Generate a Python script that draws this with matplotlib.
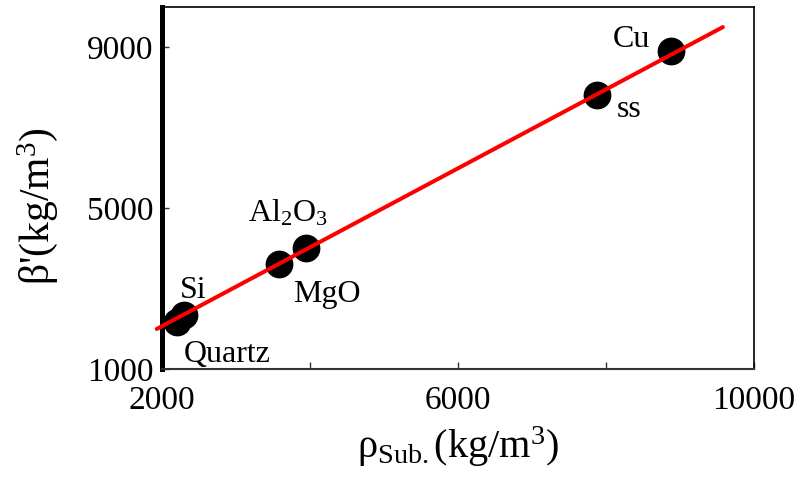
import numpy as np
import matplotlib
matplotlib.use("Agg")
import matplotlib.pyplot as plt
from matplotlib.ticker import FixedLocator

plt.rcParams["font.family"] = ["Liberation Serif", "DejaVu Serif"]
plt.rcParams["mathtext.fontset"] = "custom"
plt.rcParams["mathtext.rm"] = "Liberation Serif"
plt.rcParams["mathtext.it"] = "Liberation Serif"

# substrate density vs. effective density
materials = ["Quartz", "Si", "MgO", "Al$_2$O$_3$", "ss", "Cu"]
rho_sub = [2200, 2300, 3580, 3950, 7880, 8880]
beta = [2170, 2350, 3620, 4020, 7810, 8900]

# linear fit drawn across the data range
fit_slope = 0.981
fit_intercept = 103
fit_x = [1930, 9580]

# label offsets in pixels from each point (dx, dy)
label_offsets = [(7, -40), (-4, 17), (14, -38), (-58, 26), (20, -22), (-58, 4)]

fig = plt.figure(figsize=(8.01, 4.82), dpi=100)
ax = fig.add_axes([0.2022, 0.2344, 0.7391, 0.7511])

fx = np.array(fit_x)
ax.plot(fx, fit_slope * fx + fit_intercept, color="red", lw=2.9,
        zorder=3, clip_on=False, solid_capstyle="round")
ax.plot(rho_sub, beta, "o", color="black", ms=19, zorder=2, clip_on=False)

for name, x, y, (dx, dy) in zip(materials, rho_sub, beta, label_offsets):
    ax.annotate(name, (x, y), xytext=(dx, dy), textcoords="offset pixels",
                ha="left", va="baseline", fontsize=23)

ax.set_xlim(2000, 10000)
ax.set_ylim(1000, 10000)
ax.set_xticks([2000, 6000, 10000])
ax.xaxis.set_minor_locator(FixedLocator([4000, 8000]))
ax.set_yticks([1000, 5000, 9000])
ax.tick_params(which="both", direction="in", length=5, width=1,
               labelsize=24, color="#333333")
ax.tick_params(axis="x", pad=12)
ax.tick_params(axis="y", pad=6)

ax.spines["left"].set_linewidth(3.6)
ax.spines["bottom"].set_linewidth(1.5)
ax.spines["bottom"].set_color("#333333")
ax.spines["top"].set_linewidth(1.2)
ax.spines["right"].set_linewidth(1.2)

ax.set_xlabel("ρ$_{\\mathrm{Sub.}}$(kg/m$^{3}$)", fontsize=29, labelpad=6)
ax.set_ylabel("β'(kg/m$^{3}$)", fontsize=30)
ax.yaxis.set_label_coords(-0.172, 0.45)

fig.savefig("out.png", dpi=100)
